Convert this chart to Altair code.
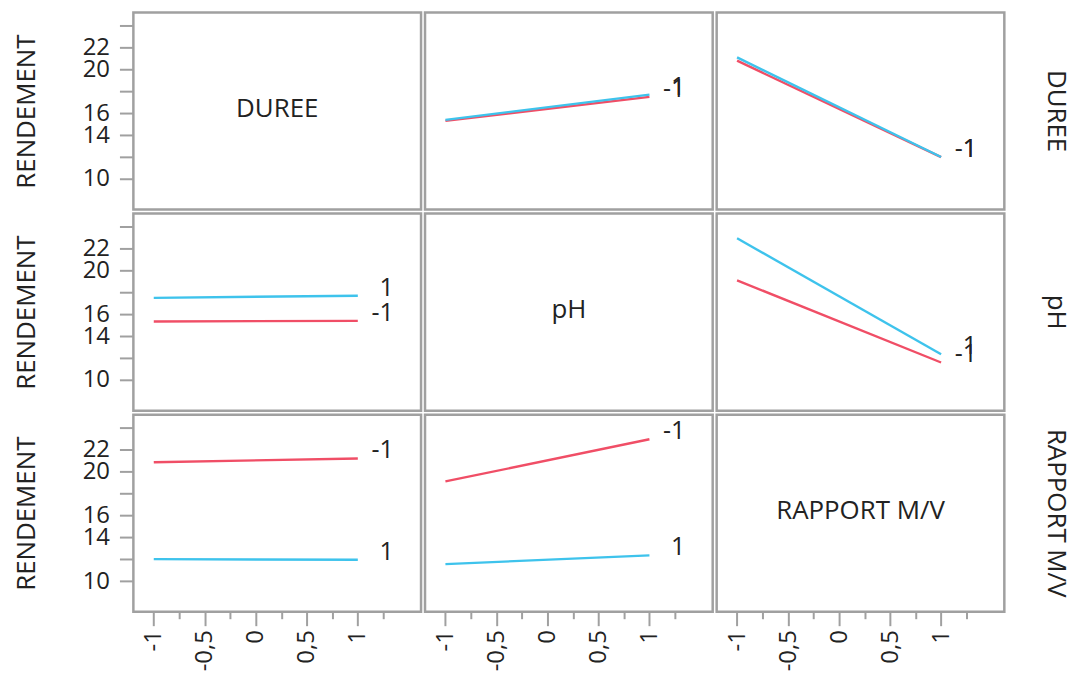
import altair as alt
import pandas as pd

# ---- data ----
factors = ["DUREE", "pH", "RAPPORT M/V"]
levels = ["-1", "1"]
x_points = [-1, 1]

# profiles[(row, col)] -> {level: [y at x=-1, y at x=1]}
# row = factor whose levels draw the lines, col = factor on the x axis
profiles = {
    (0, 1): {"-1": [15.3, 17.5], "1": [15.4, 17.7]},
    (0, 2): {"-1": [20.8, 12.0], "1": [21.1, 12.0]},
    (1, 0): {"-1": [15.35, 15.4], "1": [17.5, 17.7]},
    (1, 2): {"-1": [19.1, 11.6], "1": [22.95, 12.35]},
    (2, 0): {"-1": [20.85, 21.2], "1": [12.0, 11.95]},
    (2, 1): {"-1": [19.1, 22.95], "1": [11.55, 12.35]},
}

y_ticks = [10, 12, 14, 16, 18, 20, 22, 24]
x_ticks = [-1, -0.75, -0.5, -0.25, 0, 0.25, 0.5, 0.75, 1, 1.25]

RED = "#f04e66"
BLUE = "#3ec3ec"
INK = "#222222"
GRAY = "#a0a0a0"
FONT = "Open Sans"
W, H = 289, 198
Y_DOM = [7.2, 25.2]
X_DOM = [-1.2, 1.62]

y_label_expr = ("(datum.value == 12 || datum.value == 18 || datum.value == 24) ? '' : datum.label")
x_label_expr = ("datum.value == -1 ? '-1' : datum.value == -0.5 ? '-0,5' : datum.value == 0 ? '0' : "
                "datum.value == 0.5 ? '0,5' : datum.value == 1 ? '1' : ''")


def x_axis(show):
    if not show:
        return None
    return alt.Axis(values=x_ticks, labelExpr=x_label_expr, labelAngle=270,
                    labelFontSize=24, labelFont=FONT, labelColor=INK,
                    tickSize={"condition": {"test": "datum.value == -1 || datum.value == -0.5 || datum.value == 0 || datum.value == 0.5 || datum.value == 1", "value": 14}, "value": 7},
                    tickColor=GRAY, tickWidth=2, domain=False, grid=False,
                    labelPadding=4, title=None, labelOverlap=False)


def y_axis(show):
    if not show:
        return None
    return alt.Axis(values=y_ticks, labelExpr=y_label_expr, labelFontSize=24,
                    labelFont=FONT, labelColor=INK, tickSize=14, tickColor=GRAY,
                    tickWidth=2, domain=False, grid=False, labelPadding=10,
                    labelOverlap=False, title="RENDEMENT", titleFontSize=26,
                    titleFont=FONT, titleColor=INK, titleFontWeight="normal",
                    titlePadding=43)


def panel(r, c):
    show_x = r == 2
    show_y = c == 0
    layers = []
    if r == c:
        base = alt.Chart(pd.DataFrame({"x": [0.0], "y": [16.0], "t": [factors[r]]}))
        axes_layer = base.mark_point(opacity=0).encode(
            x=alt.X("x:Q", scale=alt.Scale(domain=X_DOM, nice=False, zero=False), axis=x_axis(show_x)),
            y=alt.Y("y:Q", scale=alt.Scale(domain=Y_DOM, nice=False, zero=False), axis=y_axis(show_y)),
        )
        txt = base.mark_text(fontSize=26, font=FONT, color=INK, align="center", baseline="middle").encode(
            x=alt.value(W / 2), y=alt.value(H / 2 - 2), text="t:N")
        layers += [axes_layer, txt]
    else:
        rows = []
        for lev in levels:
            for xi, yv in zip(x_points, profiles[(r, c)][lev]):
                rows.append({"x": xi, "y": yv, "level": lev})
        df = pd.DataFrame(rows)
        xenc = alt.X("x:Q", scale=alt.Scale(domain=X_DOM, nice=False, zero=False), axis=x_axis(show_x))
        yenc = alt.Y("y:Q", scale=alt.Scale(domain=Y_DOM, nice=False, zero=False), axis=y_axis(show_y))
        col = alt.Color("level:N", scale=alt.Scale(domain=levels, range=[RED, BLUE]), legend=None)
        lines = alt.Chart(df).mark_line(strokeWidth=2.4).encode(x=xenc, y=yenc, color=col, detail="level:N")
        labels = alt.Chart(df).transform_filter("datum.x == 1").mark_text(
            fontSize=25, font=FONT, color=INK, align="right", baseline="alphabetic", dx=36, dy=0
        ).encode(x=xenc, y=yenc, text="level:N")
        layers += [lines, labels]
    if c == 2:
        lab = alt.Chart(pd.DataFrame({"t": [factors[r]]})).mark_text(
            fontSize=26, font=FONT, color=INK, angle=90, align="center", baseline="middle"
        ).encode(x=alt.value(W + 52), y=alt.value(H / 2), text="t:N")
        layers.append(lab)
    return alt.layer(*layers).properties(width=W, height=H)


rows_charts = [alt.hconcat(*[panel(r, c) for c in range(3)], spacing=0) for r in range(3)]
chart = alt.vconcat(*rows_charts, spacing=0).properties(
    padding={"left": 12, "top": 9, "right": 5, "bottom": 5},
    background="white",
).configure_view(stroke=GRAY, strokeWidth=2.5)

chart.save("out.html", embed_options={"renderer": "svg", "actions": False})
